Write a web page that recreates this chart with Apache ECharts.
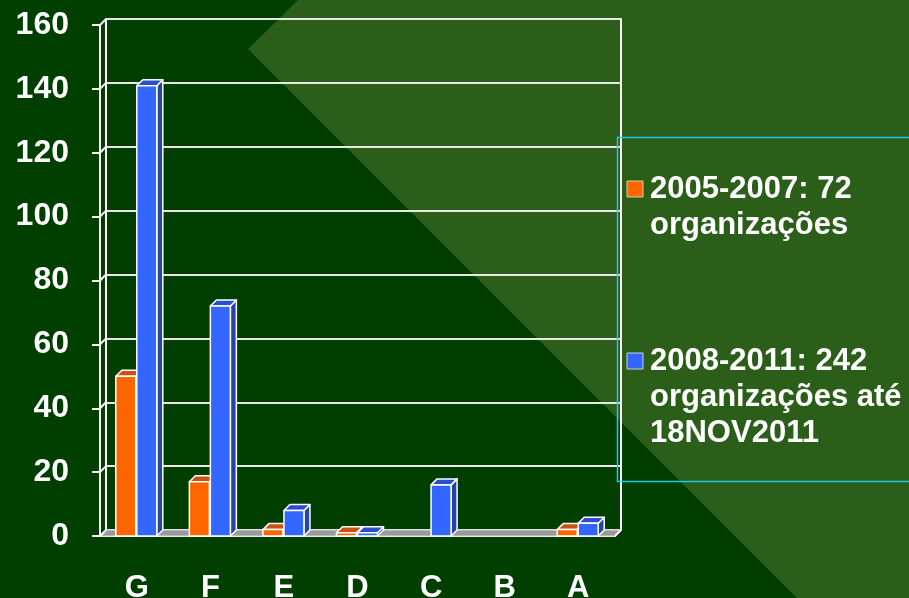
<!DOCTYPE html>
<html>
<head>
<meta charset="utf-8">
<script src="https://cdn.jsdelivr.net/npm/echarts@6/dist/echarts.min.js"></script>
<style>
  html, body { margin: 0; padding: 0; background: #003f00; }
  #chart { width: 909px; height: 598px; }
</style>
</head>
<body>
<div id="chart"></div>
<script>
const categories = ['G', 'F', 'E', 'D', 'C', 'B', 'A']
const serie2005 = [50, 17, 2, 1, 0, 0, 2]
const serie2008 = [141, 72, 8, 1, 16, 0, 4]
const yTicks = [0, 20, 40, 60, 80, 100, 120, 140, 160]
const legendNames = ['2005-2007: 72\norganizações', '2008-2011: 242\norganizações até\n18NOV2011']

const ORANGE = { front: '#ff6600', top: '#c85214', side: '#b34a10' }
const BLUE = { front: '#3366ff', top: '#2a4fc8', side: '#2444a8' }
const DX = 6, DY = -6

const chart = echarts.init(document.getElementById('chart'))

function barRender(offset, col) {
  return function (params, api) {
    const v = api.value(1)
    if (!v) return null
    const top = api.coord([api.value(0), v])
    const base = api.coord([api.value(0), 0])
    const w = 20
    const x = top[0] + offset
    const y = top[1]
    const b = base[1]
    const stroke = { stroke: '#ffffff', lineWidth: 1.5, lineJoin: 'round' }
    return {
      type: 'group',
      children: [
        { type: 'polygon', shape: { points: [[x + w, y], [x + w + DX, y + DY], [x + w + DX, b + DY], [x + w, b]] }, style: Object.assign({ fill: col.side }, stroke) },
        { type: 'polygon', shape: { points: [[x, y], [x + w, y], [x + w + DX, y + DY], [x + DX, y + DY]] }, style: Object.assign({ fill: col.top }, stroke) },
        { type: 'rect', shape: { x: x, y: y, width: w, height: b - y }, style: Object.assign({ fill: col.front }, stroke) }
      ]
    }
  }
}

function frameRender(params, api) {
  const v = api.value(1)
  const p = api.coord([0, v])
  const band = api.size([1, 0])[0]
  const x0 = p[0] - band / 2
  const y = p[1]
  const children = [
    { type: 'line', shape: { x1: x0, y1: y, x2: x0 + DX, y2: y + DY }, style: { stroke: '#ffffff', lineWidth: 2 } }
  ]
  if (v === 0) {
    const x1 = api.coord([categories.length - 1, 0])[0] + band / 2
    children.unshift({
      type: 'polygon',
      shape: { points: [[x0, y], [x1, y], [x1 + DX, y + DY], [x0 + DX, y + DY]] },
      style: { fill: '#9a9a9a', stroke: '#d8d8d8', lineWidth: 1 }
    })
    children.push({ type: 'line', shape: { x1: x1, y1: y, x2: x1 + DX, y2: y + DY }, style: { stroke: '#ffffff', lineWidth: 2 } })
  }
  return { type: 'group', children: children }
}

const labelFont = { fontFamily: 'Liberation Sans', fontWeight: 'bold', color: '#ffffff' }

const option = {
  backgroundColor: '#003f00',
  animation: false,
  textStyle: { fontFamily: 'Liberation Sans' },
  graphic: [
    {
      type: 'polygon',
      z: -10,
      silent: true,
      shape: { points: [[298, 0], [248, 49], [797, 598], [909, 598], [909, 0]] },
      style: { fill: '#2a5e19' }
    },
    {
      type: 'polyline',
      z: 10,
      shape: { points: [[930, 137.5], [617.5, 137.5], [617.5, 481.5], [930, 481.5]] },
      style: { fill: null, stroke: '#1ec8e6', lineWidth: 1.5 }
    },
    {
      type: 'rect', z: 10,
      shape: { x: 627, y: 181, width: 16, height: 16 },
      style: { fill: ORANGE.front, stroke: '#e0c8b0', lineWidth: 1 }
    },
    {
      type: 'text', z: 10, x: 650, y: 171,
      style: { text: legendNames[0], fill: '#ffffff', font: 'bold 31px "Liberation Sans"', lineHeight: 36, verticalAlign: 'top' }
    },
    {
      type: 'rect', z: 10,
      shape: { x: 627, y: 353, width: 16, height: 16 },
      style: { fill: BLUE.front, stroke: '#c8d0e0', lineWidth: 1 }
    },
    {
      type: 'text', z: 10, x: 650, y: 343,
      style: { text: legendNames[1], fill: '#ffffff', font: 'bold 31px "Liberation Sans"', lineHeight: 36, verticalAlign: 'top' }
    }
  ],
  grid: [
    { left: 100, right: 294, top: 25, bottom: 62, outerBoundsMode: 'none' },
    { left: 106, right: 288, top: 19, bottom: 68, outerBoundsMode: 'none' }
  ],
  xAxis: [
    {
      gridIndex: 0,
      type: 'category',
      data: categories,
      axisLine: { lineStyle: { color: '#ffffff', width: 2 } },
      axisTick: { length: 11, lineStyle: { color: '#ffffff', width: 2 } },
      axisLabel: Object.assign({ fontSize: 31, margin: 37, verticalAlign: 'top' }, labelFont),
      splitLine: { show: false }
    },
    { gridIndex: 1, type: 'category', data: categories, show: false }
  ],
  yAxis: [
    {
      gridIndex: 0,
      type: 'value',
      min: 0, max: 160, interval: 20,
      axisLine: { show: true, lineStyle: { color: '#ffffff', width: 2 } },
      axisTick: { show: true, length: 8, lineStyle: { color: '#ffffff', width: 2 } },
      axisLabel: Object.assign({ fontSize: 32, margin: 31 }, labelFont),
      splitLine: { show: false }
    },
    {
      gridIndex: 1,
      type: 'value',
      min: 0, max: 160, interval: 20,
      axisLine: { show: true, lineStyle: { color: '#ffffff', width: 2 } },
      axisTick: { show: false },
      axisLabel: { show: false },
      splitLine: { lineStyle: { color: '#e8e8e8', width: 2 } }
    },
    {
      gridIndex: 1,
      type: 'value',
      position: 'right',
      min: 0, max: 160, interval: 20,
      axisLine: { show: true, lineStyle: { color: '#ffffff', width: 2 } },
      axisTick: { show: false },
      axisLabel: { show: false },
      splitLine: { show: false }
    }
  ],
  series: [
    {
      type: 'custom',
      name: 'frame',
      xAxisIndex: 0, yAxisIndex: 0,
      z: 1,
      silent: true,
      renderItem: frameRender,
      data: yTicks.map((v) => [0, v])
    },
    {
      type: 'custom',
      name: legendNames[0],
      xAxisIndex: 0, yAxisIndex: 0,
      z: 3,
      renderItem: barRender(-21, ORANGE),
      data: serie2005.map((v, i) => [i, v])
    },
    {
      type: 'custom',
      name: legendNames[1],
      xAxisIndex: 0, yAxisIndex: 0,
      z: 3,
      renderItem: barRender(0, BLUE),
      data: serie2008.map((v, i) => [i, v])
    }
  ]
}

chart.setOption(option)
</script>
</body>
</html>
